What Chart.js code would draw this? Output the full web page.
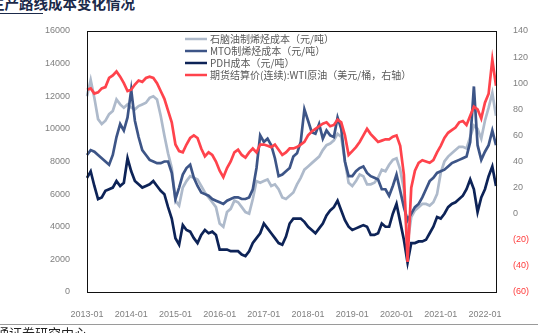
<!DOCTYPE html>
<html>
<head>
<meta charset="utf-8">
<script src="https://cdn.jsdelivr.net/npm/chart.js@4.4.0/dist/chart.umd.min.js"></script>
<style>
  html, body { margin: 0; padding: 0; background: #fff; }
  #wrap { position: relative; width: 538px; height: 333px; overflow: hidden; background: #fff; }
  #cost-chart { position: absolute; left: 0; top: 0; }
  .title {
    position: absolute; right: 403px; top: -4px; white-space: nowrap;
    font: bold 14.5px "Noto Sans CJK SC", sans-serif; line-height: 1; color: #1b2a4a;
  }
  .title-rule { position: absolute; left: 0; top: 13px; width: 43px; height: 1px; background: #1b2a4a; }
  .foot-rule { position: absolute; left: 0; top: 324px; width: 538px; height: 1px; background: #9a9a9a; }
  .source {
    position: absolute; right: 451px; top: 326px; white-space: nowrap;
    font: 13px "Noto Sans CJK SC", sans-serif; line-height: 1; color: #222;
  }
</style>
</head>
<body>
<div id="wrap">
  <div class="title">生产路线成本变化情况</div>
  <div class="title-rule"></div>
  <canvas id="cost-chart" width="538" height="333"></canvas>
  <div class="foot-rule"></div>
  <div class="source">资料来源：Wind，海通证券研究中心</div>
</div>
<script>
// year ticks shown under the x axis
const tickLabels = [
  '2013-01', '2014-01', '2015-01', '2016-01', '2017-01',
  '2018-01', '2019-01', '2020-01', '2021-01', '2022-01',
];

// monthly categories, 2013-01 .. 2022-04
const months = [];
for (let y = 2013; y <= 2022; y += 1) {
  for (let m = 1; m <= 12; m += 1) {
    if (y === 2022 && m > 4) break;
    months.push(`${y}-${String(m).padStart(2, '0')}`);
  }
}

// 石脑油制烯烃成本 (元/吨)
const naphthaCost = [
  12000, 13000, 11900, 10600, 10300, 10500, 10900, 11100, 11800, 11500, 11300, 11500,
  11300, 11200, 11400, 11500, 11600, 11900, 12000, 11800, 10800, 9600, 8500, 7600,
  5600, 5300, 6400, 6800, 7100, 7000, 6900, 6500, 6100, 5800, 5500, 5200,
  4200, 4000, 4900, 5100, 5600, 5500, 5200, 4900, 4800, 5700, 6800, 6700,
  6800, 6900, 6500, 6600, 6300, 5800, 5700, 5900, 6100, 6600, 7000, 7500,
  7700, 7900, 8100, 8300, 8700, 9000, 9100, 9300, 9700, 9500, 8000, 6700,
  6500, 6800, 7200, 7100, 6600, 6600, 6700, 7000, 7500, 7400, 7800, 8100,
  8200, 7500, 6300, 3000, 4600, 5000, 5200, 5400, 5400, 5300, 5500, 6000,
  7300, 8000, 8300, 8500, 8700, 8900, 8900, 8800, 9500, 10200, 10000, 9400,
  10500, 11300, 12200, 10800,
];

// MTO制烯烃成本 (元/吨)
const mtoCost = [
  8400, 8700, 8600, 8400, 8200, 8000, 7800, 8400, 9500, 10300, 9900, 10700,
  12400, 10500, 9500, 8700, 8400, 8100, 8000, 7900, 7900, 8000, 8000, 7300,
  5700, 6400, 7200, 7600, 7800, 7000, 6500, 6100, 6000, 5900, 5700, 5600,
  5500, 5400, 5600, 5700, 5800, 5800, 5700, 5700, 5800, 6300, 7600, 9600,
  9200, 9400, 9000, 8200, 7100, 7200, 7400, 7600, 8300, 8500, 9200, 11200,
  10500, 9800, 9700, 10300, 9400, 9900, 9600, 9500, 10700, 10000, 8000, 7100,
  7100, 7400, 7600, 7700, 7300, 7100, 7000, 6900, 6300, 6300, 5900, 6500,
  7200, 6200, 5200, 4400, 4800, 5200, 5400, 5800, 6300, 6800, 7000, 7300,
  7400, 7500, 7700, 7900, 8000, 8100, 8200, 8300, 9200, 12600, 9000, 8100,
  8600, 9000, 9900, 9000,
];

// PDH成本 (元/吨)
const pdhCost = [
  7000, 7400, 6500, 5700, 5800, 6200, 6300, 6400, 6800, 6500, 6700, 8200,
  7400, 6800, 6600, 6400, 6500, 6600, 6800, 6500, 6200, 6000, 5200, 4500,
  3300, 2900, 4100, 3800, 3700, 3300, 3000, 3500, 3800, 3600, 3700, 3500,
  2600, 2600, 2600, 2500, 2500, 2500, 2300, 2200, 2500, 3000, 3300, 3600,
  4200, 3900, 3600, 3300, 3000, 2900, 3400, 4200, 4500, 4500, 4500, 4300,
  4000, 3800, 3600, 3900, 4200, 4700, 5000, 5200, 5600, 5000, 4400, 4000,
  3800, 3900, 4000, 4100, 4000, 3500, 3500, 3600, 4200, 4000, 4000, 4800,
  5400, 4300, 3200, 1800, 3000, 3000, 3100, 3100, 3200, 3600, 4000, 4600,
  4500, 4800, 5200, 5400, 5500, 5700, 5900, 6300, 6900, 6300, 4900, 5800,
  6300, 7100, 7700, 6500,
];

// WTI原油 (美元/桶, 右轴)
const wtiPrice = [
  95, 96, 92, 93, 96, 97, 104, 106, 109, 105, 100, 94,
  95, 99, 102, 101, 104, 105, 104, 100, 94, 88, 79, 70,
  53, 48, 47, 53, 58, 60, 58, 50, 44, 47, 45, 40,
  33, 28, 35, 40, 47, 49, 45, 43, 47, 50, 47, 53,
  53, 52, 51, 53, 49, 45, 47, 50, 50, 51, 53, 55,
  60, 63, 65, 67, 69, 70, 67, 68, 72, 70, 60, 45,
  48, 51, 55, 60, 65, 61, 58, 55, 56, 57, 57, 59,
  60, 52, 30, -37, 20, 33, 39, 41, 40, 39, 41, 47,
  52, 58, 62, 64, 66, 70, 71, 68, 75, 82, 80, 73,
  85, 92, 118, 98,
];

const seriesNames = [
  '石脑油制烯烃成本（元/吨）',
  'MTO制烯烃成本（元/吨）',
  'PDH成本（元/吨）',
  '期货结算价(连续):WTI原油（美元/桶，右轴）',
];
const seriesColors = ['#aebacb', '#3d5587', '#0d2357', '#ff434c'];

const tickFont = { family: '"Liberation Sans", Arial, sans-serif', size: 9 };

// legend drawn inside the plot, upper middle
const innerLegend = {
  id: 'innerLegend',
  afterDraw(chart) {
    const { ctx } = chart;
    ctx.save();
    ctx.font = '10px "Noto Sans CJK SC", sans-serif';
    ctx.textBaseline = 'middle';
    seriesNames.forEach((name, i) => {
      const y = 39 + i * 12;
      ctx.strokeStyle = seriesColors[i];
      ctx.lineWidth = 2.5;
      ctx.beginPath();
      ctx.moveTo(185, y);
      ctx.lineTo(207, y);
      ctx.stroke();
      ctx.fillStyle = '#595959';
      ctx.fillText(name, 210, y + 0.5);
    });
    ctx.restore();
  },
};

// black frame round the chart area
const plotFrame = {
  id: 'plotFrame',
  afterDatasetsDraw(chart) {
    const { ctx, chartArea: a } = chart;
    ctx.save();
    ctx.strokeStyle = '#111';
    ctx.lineWidth = 1;
    ctx.strokeRect(Math.round(a.left) + 0.5, Math.round(a.top) + 0.5,
      Math.round(a.width), Math.round(a.height));
    ctx.restore();
  },
};

const lineSet = (idx, data, axis, order) => ({
  label: seriesNames[idx],
  data,
  yAxisID: axis,
  borderColor: seriesColors[idx],
  backgroundColor: seriesColors[idx],
  borderWidth: 2.7,
  pointRadius: 0,
  tension: 0,
  order,
});

// eslint-disable-next-line no-new, no-undef
new Chart(document.getElementById('cost-chart'), {
  type: 'line',
  data: {
    labels: months,
    datasets: [
      lineSet(0, naphthaCost, 'y', 3),
      lineSet(1, mtoCost, 'y', 2),
      lineSet(2, pdhCost, 'y', 1),
      lineSet(3, wtiPrice, 'y1', 0),
    ],
  },
  options: {
    responsive: false,
    animation: false,
    devicePixelRatio: 1,
    layout: { padding: { left: 0, right: 0, top: 31, bottom: 0 } },
    plugins: { legend: { display: false }, tooltip: { enabled: false } },
    scales: {
      x: {
        type: 'category',
        grid: { display: false },
        border: { display: false },
        ticks: {
          autoSkip: false,
          maxRotation: 0,
          padding: 9,
          color: '#7f7f7f',
          font: tickFont,
          callback: (v, i) => (tickLabels.includes(months[i]) ? months[i] : ''),
        },
        afterFit: (s) => { s.height = 41; },
      },
      y: {
        position: 'left',
        min: 0,
        max: 16000,
        grid: { display: false },
        border: { display: false },
        ticks: {
          stepSize: 2000,
          padding: 9,
          color: '#7f7f7f',
          font: tickFont,
          callback: (v) => `${v}`,
        },
        afterFit: (s) => { s.width = 87; },
      },
      y1: {
        position: 'right',
        min: -60,
        max: 140,
        grid: { display: false },
        border: { display: false },
        ticks: {
          stepSize: 20,
          padding: 9,
          font: tickFont,
          color: (c) => (c.tick && c.tick.value < 0 ? '#ff3b3b' : '#7f7f7f'),
          callback: (v) => (v < 0 ? `(${-v})` : `${v}`),
        },
        afterFit: (s) => { s.width = 42; },
      },
    },
  },
  plugins: [innerLegend, plotFrame],
});
</script>
</body>
</html>
